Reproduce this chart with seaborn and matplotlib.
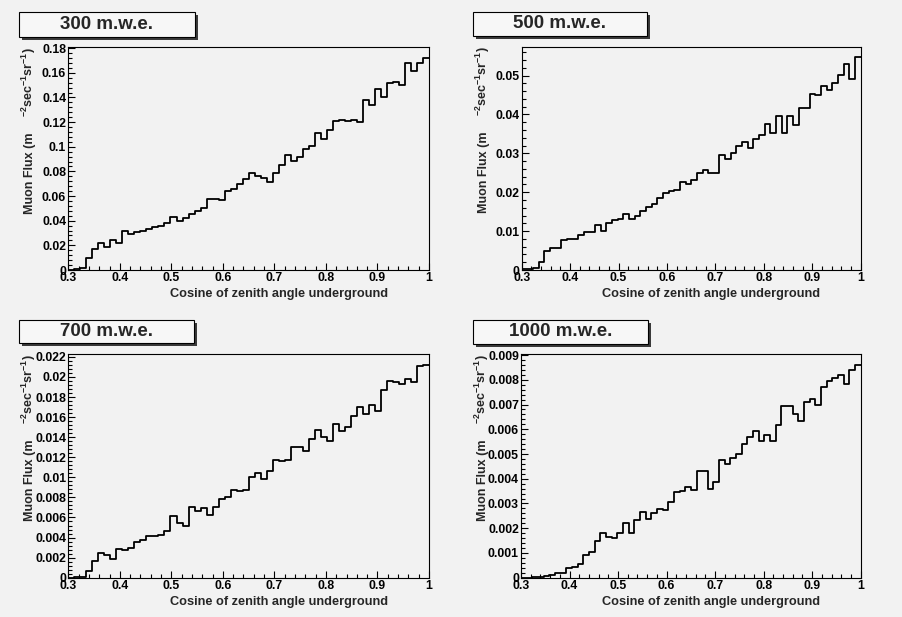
import numpy as np
import pandas as pd
import matplotlib
matplotlib.use("Agg")
import matplotlib.pyplot as plt
import matplotlib.transforms as mtransforms
from matplotlib.patches import Rectangle
from matplotlib.ticker import MultipleLocator, FuncFormatter
import seaborn as sns

# ---------------- data ----------------
depth_labels = ["300 m.w.e.", "500 m.w.e.", "700 m.w.e.", "1000 m.w.e."]
cos_low, cos_high, n_bins = 0.3, 1.0, 60

flux_300 = [0.0, 0.0008, 0.0016, 0.0094, 0.0170, 0.0223, 0.0188, 0.0240, 0.0223, 0.0318,
            0.0290, 0.0310, 0.0318, 0.0331, 0.0347, 0.0358, 0.0382, 0.0431, 0.0396, 0.0425,
            0.0458, 0.0479, 0.0503, 0.0576, 0.0576, 0.0570, 0.0643, 0.0654, 0.0700, 0.0735,
            0.0783, 0.0759, 0.0748, 0.0716, 0.0783, 0.0851, 0.0934, 0.0883, 0.0915, 0.0983,
            0.1009, 0.1112, 0.1063, 0.1136, 0.1206, 0.1219, 0.1209, 0.1219, 0.1203, 0.1381,
            0.1338, 0.1472, 0.1400, 0.1515, 0.1526, 0.1499, 0.1682, 0.1615, 0.1682, 0.1723]

flux_500 = [0.0002, 0.0003, 0.0004, 0.0021, 0.0049, 0.0057, 0.0057, 0.0077, 0.0080, 0.0080,
            0.0091, 0.0097, 0.0097, 0.0117, 0.0100, 0.0120, 0.0128, 0.0131, 0.0145, 0.0132,
            0.0139, 0.0152, 0.0162, 0.0171, 0.0185, 0.0198, 0.0203, 0.0205, 0.0226, 0.0222,
            0.0231, 0.0250, 0.0258, 0.0250, 0.0250, 0.0297, 0.0285, 0.0301, 0.0319, 0.0329,
            0.0315, 0.0338, 0.0347, 0.0376, 0.0352, 0.0397, 0.0352, 0.0397, 0.0374, 0.0417,
            0.0417, 0.0453, 0.0449, 0.0472, 0.0463, 0.0481, 0.0501, 0.0529, 0.0490, 0.0547]

flux_700 = [0.0, 0.0001, 0.0001, 0.0007, 0.0017, 0.0025, 0.0023, 0.0019, 0.0029, 0.0028,
            0.0030, 0.0036, 0.0038, 0.0042, 0.0042, 0.0043, 0.0047, 0.0061, 0.0055, 0.0052,
            0.0070, 0.0066, 0.0069, 0.0062, 0.0070, 0.0078, 0.0080, 0.0087, 0.0086, 0.0087,
            0.0100, 0.0104, 0.0098, 0.0106, 0.0117, 0.0116, 0.0117, 0.0130, 0.0130, 0.0126,
            0.0138, 0.0147, 0.0140, 0.0136, 0.0153, 0.0146, 0.0150, 0.0161, 0.0170, 0.0163,
            0.0172, 0.0166, 0.0187, 0.0196, 0.0195, 0.0193, 0.0198, 0.0195, 0.0211, 0.0212]

flux_1000 = [0.0, 0.0, 0.00001, 0.00003, 0.00008, 0.00012, 0.00018, 0.00020, 0.00038, 0.00042,
             0.00056, 0.00092, 0.00102, 0.00147, 0.00180, 0.00166, 0.00162, 0.00180, 0.00220, 0.00180,
             0.00233, 0.00265, 0.00238, 0.00260, 0.00278, 0.00272, 0.00305, 0.00347, 0.00352, 0.00366,
             0.00356, 0.00430, 0.00430, 0.00360, 0.00387, 0.00474, 0.00458, 0.00485, 0.00499, 0.00542,
             0.00567, 0.00591, 0.00551, 0.00575, 0.00551, 0.00618, 0.00696, 0.00694, 0.00663, 0.00632,
             0.00710, 0.00723, 0.00700, 0.00770, 0.00797, 0.00806, 0.00819, 0.00782, 0.00840, 0.00860]

y_major_steps = [0.02, 0.01, 0.002, 0.001]
x_title = "Cosine of zenith angle underground"
y_title_main = "Muon Flux (m"
y_title_units = r"$^{-2}$sec$^{-1}$sr$^{-1}$)"

all_flux = [flux_300, flux_500, flux_700, flux_1000]

# ---------------- style ----------------
BG = "#f2f2f2"
sns.set_style("ticks")
plt.rcParams.update({
    "font.weight": "bold",
    "axes.facecolor": BG,
    "figure.facecolor": BG,
    "savefig.facecolor": BG,
    "axes.edgecolor": "black",
    "axes.linewidth": 0.8,
    "mathtext.fontset": "custom",
    "mathtext.rm": "Liberation Sans:bold",
    "mathtext.it": "Liberation Sans:bold",
    "mathtext.bf": "Liberation Sans:bold",
    "mathtext.default": "regular",
})
plt.rcParams["font.family"] = ["Liberation Sans", "DejaVu Sans"]

W, H = 903, 617
fig = plt.figure(figsize=(W / 100, H / 100), dpi=100)

axes_px = [(68.3, 47.0, 429.0, 270.0), (521.7, 46.7, 860.7, 270.0),
           (68.3, 354.3, 429.0, 577.7), (521.0, 354.3, 860.7, 577.7)]
box_px = [(19.0, 12.0, 195.0, 36.5), (472.7, 12.0, 646.7, 35.5),
          (19.3, 320.0, 194.3, 342.5), (472.7, 320.0, 648.0, 344.0)]

edges = [float(e) for e in np.linspace(cos_low, cos_high, n_bins + 1)]
centers = [0.5 * (edges[k] + edges[k + 1]) for k in range(n_bins)]
fmt = FuncFormatter(lambda v, p: f"{round(v, 6):g}")

for i in range(4):
    x0, y0, x1, y1 = axes_px[i]
    ax = fig.add_axes([x0 / W, 1 - y1 / H, (x1 - x0) / W, (y1 - y0) / H])
    df = pd.DataFrame({"cos": centers, "flux": all_flux[i]})
    sns.histplot(data=df, x="cos", weights="flux", bins=edges, element="step",
                 fill=False, color="black", linewidth=1.3, ax=ax)
    ax.set_xlim(cos_low, cos_high)
    ax.set_ylim(0, 1.05 * max(all_flux[i]))
    ax.set_xlabel("")
    ax.set_ylabel("")
    ax.xaxis.set_major_locator(MultipleLocator(0.1))
    ax.xaxis.set_minor_locator(MultipleLocator(0.02))
    ax.yaxis.set_major_locator(MultipleLocator(y_major_steps[i]))
    ax.yaxis.set_minor_locator(MultipleLocator(y_major_steps[i] / 5))
    ax.xaxis.set_major_formatter(fmt)
    ax.yaxis.set_major_formatter(fmt)
    ax.tick_params(which="both", direction="in", top=False, right=False,
                   colors="black", width=0.8, labelsize=8.8, pad=1.5)
    ax.tick_params(which="major", length=5)
    ax.tick_params(which="minor", length=2.6)
    for sp in ax.spines.values():
        sp.set_visible(True)
        sp.set_linewidth(0.8)
        sp.set_color("black")

    # x title (right side of axis)
    tx = mtransforms.offset_copy(ax.transAxes, fig=fig, x=-41, y=-24, units="dots")
    ax.text(1.0, 0.0, x_title, transform=tx, ha="right", va="center",
            fontsize=9.2, fontweight="bold")

    # y title in two pieces, as drawn by ROOT
    tA = mtransforms.offset_copy(ax.transAxes, fig=fig, x=-35, y=-85, units="dots")
    ax.text(0.0, 1.0, y_title_main, transform=tA, rotation=90, rotation_mode="anchor",
            ha="right", va="baseline", fontsize=9, fontweight="bold")
    tB = mtransforms.offset_copy(ax.transAxes, fig=fig, x=-35, y=0, units="dots")
    ax.text(0.0, 1.0, y_title_units, transform=tB, rotation=90, rotation_mode="anchor",
            ha="right", va="baseline", fontsize=9, fontweight="bold")

    # title pave with shadow
    bx0, by0, bx1, by1 = box_px[i]
    sh = 3
    fig.patches.append(Rectangle(((bx0 + sh) / W, 1 - (by1 + sh) / H), (bx1 - bx0) / W,
                                 (by1 - by0) / H, transform=fig.transFigure,
                                 facecolor="#3a3a3a", edgecolor="none", zorder=1))
    fig.patches.append(Rectangle((bx0 / W, 1 - by1 / H), (bx1 - bx0) / W, (by1 - by0) / H,
                                 transform=fig.transFigure, facecolor="#f7f7f7",
                                 edgecolor="black", linewidth=0.8, zorder=2))
    fig.text((bx0 + bx1) / 2 / W, 1 - (by0 + by1) / 2 / H, depth_labels[i],
             ha="center", va="center", fontsize=13.5, fontweight="bold", zorder=3)

fig.savefig("out.png", dpi=100, facecolor=BG)
